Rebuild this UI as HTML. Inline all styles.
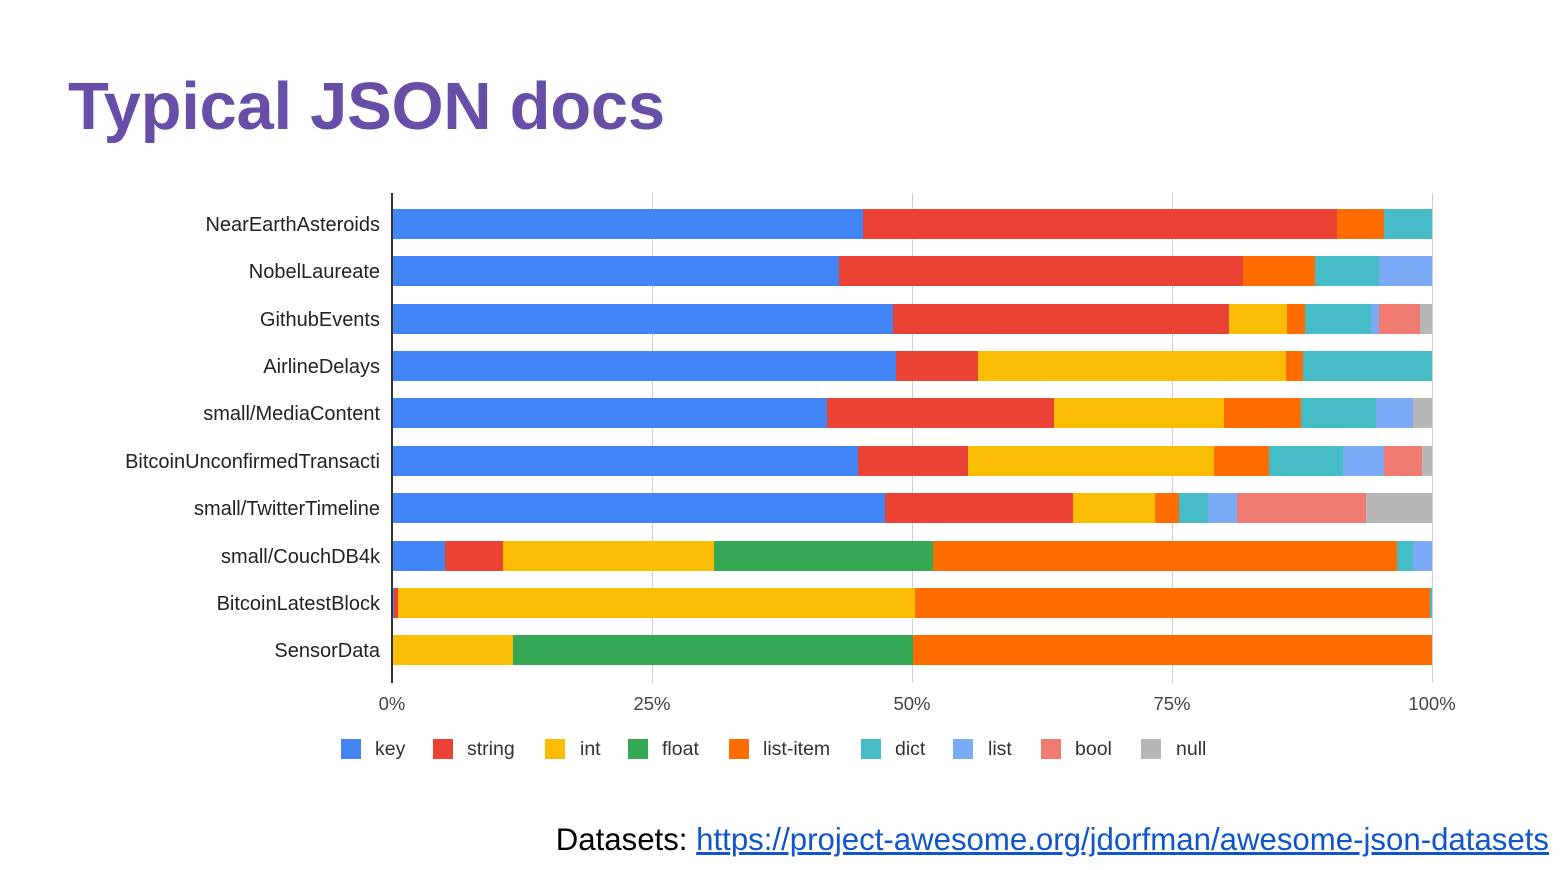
<!DOCTYPE html>
<html><head><meta charset="utf-8"><style>
body{margin:0;width:1568px;height:870px;background:#fff;position:relative;overflow:hidden;font-family:"Liberation Sans",Arial,sans-serif}
.a{position:absolute}
.seg{position:absolute;height:30px}
.lab{position:absolute;right:1188px;font-size:20px;color:#222;white-space:nowrap;line-height:22px}
.tick{position:absolute;top:694px;font-size:18.5px;color:#444;width:80px;text-align:center;line-height:20px}
.grid{position:absolute;top:193px;height:490px;width:1px;background:#d0d0d0}
.lg{position:absolute;top:739px;width:20px;height:20px}
.lt{position:absolute;top:739px;font-size:19.5px;color:#333;line-height:21px}
</style></head><body>
<div class="a" style="left:68px;top:69px;font-size:67px;font-weight:bold;color:#674ea7;line-height:76px;letter-spacing:-0.3px">Typical JSON docs</div>
<div class="grid" style="left:652px"></div>
<div class="grid" style="left:912px"></div>
<div class="grid" style="left:1172px"></div>
<div class="grid" style="left:1432px"></div>
<div id="bars"></div>
<div class="a" style="left:391px;top:193px;width:2px;height:490px;background:#333"></div>
<div class="tick" style="left:352px">0%</div>
<div class="tick" style="left:612px">25%</div>
<div class="tick" style="left:872px">50%</div>
<div class="tick" style="left:1132px">75%</div>
<div class="tick" style="left:1392px">100%</div>
<div class="lg" style="left:341px;background:#4285f4"></div><div class="lt" style="left:375px">key</div>
<div class="lg" style="left:433px;background:#ea4335"></div><div class="lt" style="left:467px">string</div>
<div class="lg" style="left:545px;background:#fbbc04"></div><div class="lt" style="left:580px">int</div>
<div class="lg" style="left:628px;background:#34a853"></div><div class="lt" style="left:662px">float</div>
<div class="lg" style="left:729px;background:#ff6d01"></div><div class="lt" style="left:763px">list-item</div>
<div class="lg" style="left:861px;background:#46bdc6"></div><div class="lt" style="left:895px">dict</div>
<div class="lg" style="left:953px;background:#7baaf7"></div><div class="lt" style="left:988px">list</div>
<div class="lg" style="left:1041px;background:#f07b72"></div><div class="lt" style="left:1075px">bool</div>
<div class="lg" style="left:1141px;background:#b7b7b7"></div><div class="lt" style="left:1176px">null</div>
<div class="a" style="right:19px;top:821px;font-size:31.2px;color:#000;line-height:38px;white-space:nowrap">Datasets: <span style="color:#1155cc;text-decoration:underline">https://project-awesome.org/jdorfman/awesome-json-datasets</span></div>
<script>
var C={k:"#4285f4",s:"#ea4335",i:"#fbbc04",f:"#34a853",l:"#ff6d01",d:"#46bdc6",L:"#7baaf7",b:"#f07b72",n:"#b7b7b7"};
var rows=[
["NearEarthAsteroids",224,[["k",863],["s",1337],["l",1384],["d",1432]]],
["NobelLaureate",271,[["k",839],["s",1243],["l",1315],["d",1379],["L",1432]]],
["GithubEvents",319,[["k",893],["s",1229],["i",1287],["l",1305],["d",1371],["L",1379],["b",1420],["n",1432]]],
["AirlineDelays",366,[["k",896],["s",978],["i",1286],["l",1303],["d",1432]]],
["small/MediaContent",413,[["k",827],["s",1054],["i",1224],["l",1301],["d",1376],["L",1413],["n",1432]]],
["BitcoinUnconfirmedTransacti",461,[["k",858],["s",968],["i",1214],["l",1269],["d",1343],["L",1384],["b",1422],["n",1432]]],
["small/TwitterTimeline",508,[["k",885],["s",1073],["i",1155],["l",1179],["d",1208],["L",1237],["b",1366],["n",1432]]],
["small/CouchDB4k",556,[["k",445],["s",503],["i",714],["f",933],["l",1397],["d",1413],["L",1432]]],
["BitcoinLatestBlock",603,[["k",394],["s",398],["i",915],["l",1430],["d",1432]]],
["SensorData",650,[["k",393],["i",513],["f",913],["l",1432]]]];
var h="";
rows.forEach(function(r){var x=392;r[2].forEach(function(s){h+='<div class="seg" style="left:'+x+'px;width:'+(s[1]-x)+'px;top:'+(r[1]-15)+'px;background:'+C[s[0]]+'"></div>';x=s[1];});
h+='<div class="lab" style="top:'+(r[1]-10)+'px">'+r[0]+'</div>';});
document.getElementById("bars").innerHTML=h;
</script>
</body></html>
